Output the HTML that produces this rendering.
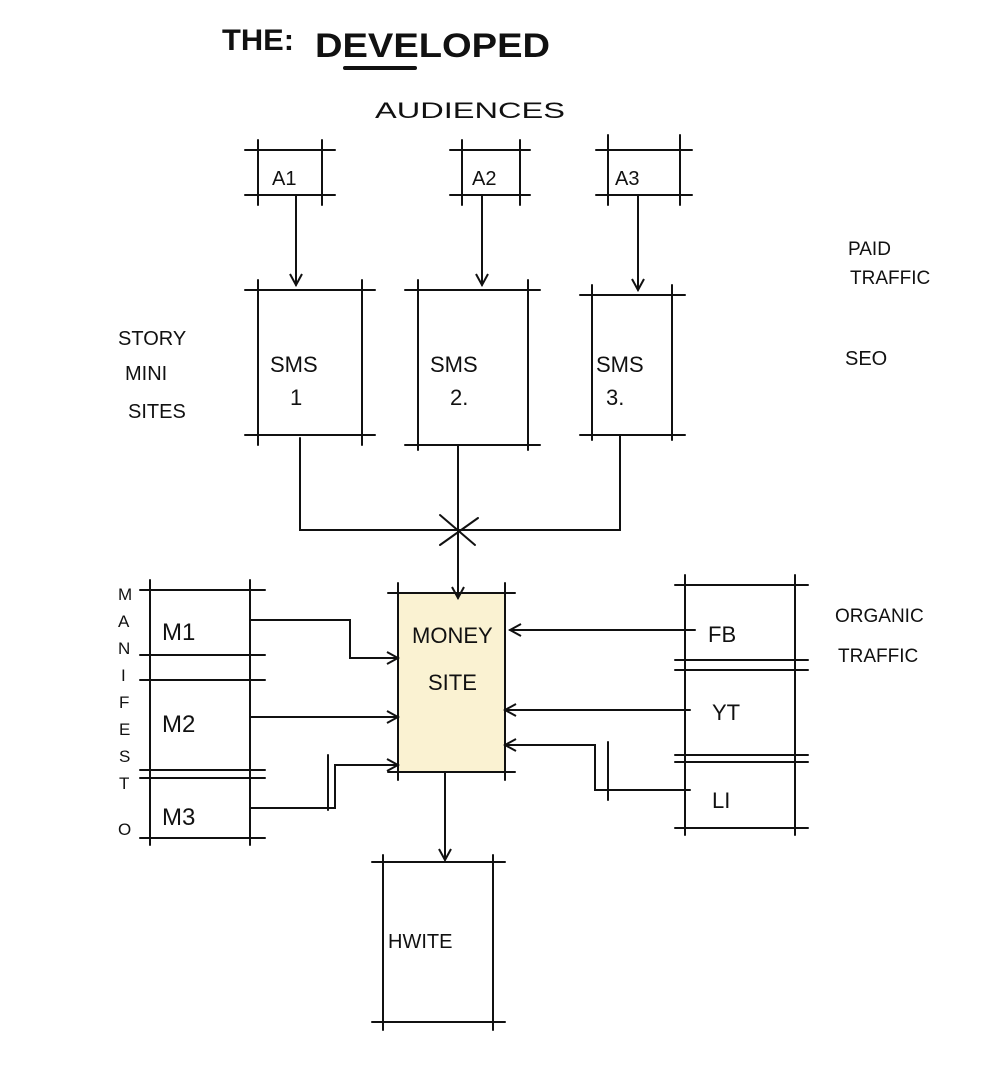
<!DOCTYPE html>
<html><head><meta charset="utf-8"><style>
html,body{margin:0;padding:0;background:#fff;}
svg{display:block}
text{font-family:"Liberation Sans",sans-serif;fill:#111;}
</style></head><body>
<svg width="1006" height="1092" viewBox="0 0 1006 1092" xmlns="http://www.w3.org/2000/svg">
<defs><marker id="ar" markerWidth="14" markerHeight="14" refX="12" refY="7" orient="auto" markerUnits="userSpaceOnUse"><path d="M1,1 L12,7 L1,13" fill="none" stroke="#111" stroke-width="2"/></marker></defs>
<rect x="398" y="593" width="107" height="179" fill="#faf2d2"/>
<g stroke="#111" stroke-width="2" fill="none" stroke-linecap="round">
<path d="M258,140V205 M322,140V205 M245,150H335 M245,195H335"/>
<path d="M462,140V205 M520,140V205 M450,150H530 M450,195H530"/>
<path d="M608,135V205 M680,135V205 M596,150H692 M596,195H692"/>
<path d="M296,195V285" marker-end="url(#ar)"/>
<path d="M482,195V285" marker-end="url(#ar)"/>
<path d="M638,195V290" marker-end="url(#ar)"/>
<path d="M258,280V445 M362,280V445 M245,290H375 M245,435H375"/>
<path d="M418,280V450 M528,280V450 M405,290H540 M405,445H540"/>
<path d="M592,285V440 M672,285V440 M580,295H685 M580,435H685"/>
<path d="M300,438V530H620V435 M458,445V530"/>
<path d="M458,530V598" marker-end="url(#ar)"/>
<path d="M440,515L475,545 M440,545L478,518"/>
<path d="M398,583V780 M505,583V780 M388,593H515 M388,772H515"/>
<path d="M150,580V845 M250,580V845 M140,590H265 M140,655H265 M140,680H265 M140,770H265 M140,778H265 M140,838H265"/>
<path d="M250,620H350V658H398" marker-end="url(#ar)"/>
<path d="M250,717H398" marker-end="url(#ar)"/>
<path d="M250,808H335V765H398" marker-end="url(#ar)"/>
<path d="M328,755V810"/>
<path d="M685,575V835 M795,575V835 M675,585H808 M675,660H808 M675,670H808 M675,755H808 M675,762H808 M675,828H808"/>
<path d="M695,630H510" marker-end="url(#ar)"/>
<path d="M690,710H505" marker-end="url(#ar)"/>
<path d="M690,790H595V745H505" marker-end="url(#ar)"/>
<path d="M608,742V800"/>
<path d="M445,772V860" marker-end="url(#ar)"/>
<path d="M383,855V1030 M493,855V1030 M372,862H505 M372,1022H505"/>
<path d="M345,68H415" stroke-width="4"/>
</g>
<text x="222" y="50" font-size="30" font-weight="bold" textLength="72" lengthAdjust="spacingAndGlyphs">THE:</text>
<text x="315" y="57" font-size="34" font-weight="bold" textLength="235" lengthAdjust="spacingAndGlyphs">DEVELOPED</text>
<text x="375" y="118" font-size="22" textLength="190" lengthAdjust="spacingAndGlyphs">AUDIENCES</text>
<text x="272" y="185" font-size="20">A1</text>
<text x="472" y="185" font-size="20">A2</text>
<text x="615" y="185" font-size="20">A3</text>
<text x="270" y="372" font-size="22">SMS</text><text x="290" y="405" font-size="22">1</text>
<text x="430" y="372" font-size="22">SMS</text><text x="450" y="405" font-size="22">2.</text>
<text x="596" y="372" font-size="22">SMS</text><text x="606" y="405" font-size="22">3.</text>
<text x="118" y="345" font-size="20">STORY</text>
<text x="125" y="380" font-size="20">MINI</text>
<text x="128" y="418" font-size="20">SITES</text>
<text x="848" y="255" font-size="19">PAID</text>
<text x="850" y="284" font-size="19">TRAFFIC</text>
<text x="845" y="365" font-size="20">SEO</text>
<text x="835" y="622" font-size="19">ORGANIC</text>
<text x="838" y="662" font-size="19">TRAFFIC</text>
<text x="412" y="643" font-size="22">MONEY</text>
<text x="428" y="690" font-size="22">SITE</text>
<text x="162" y="640" font-size="24">M1</text>
<text x="162" y="732" font-size="24">M2</text>
<text x="162" y="825" font-size="24">M3</text>
<text x="708" y="642" font-size="22">FB</text>
<text x="712" y="720" font-size="22">YT</text>
<text x="712" y="808" font-size="22">LI</text>
<text x="388" y="948" font-size="20">HWITE</text>
<g font-size="17">
<text x="118" y="600">M</text><text x="118" y="627">A</text><text x="118" y="654">N</text><text x="121" y="681">I</text><text x="119" y="708">F</text><text x="119" y="735">E</text><text x="119" y="762">S</text><text x="119" y="789">T</text><text x="118" y="835">O</text>
</g>
</svg>
</body></html>
